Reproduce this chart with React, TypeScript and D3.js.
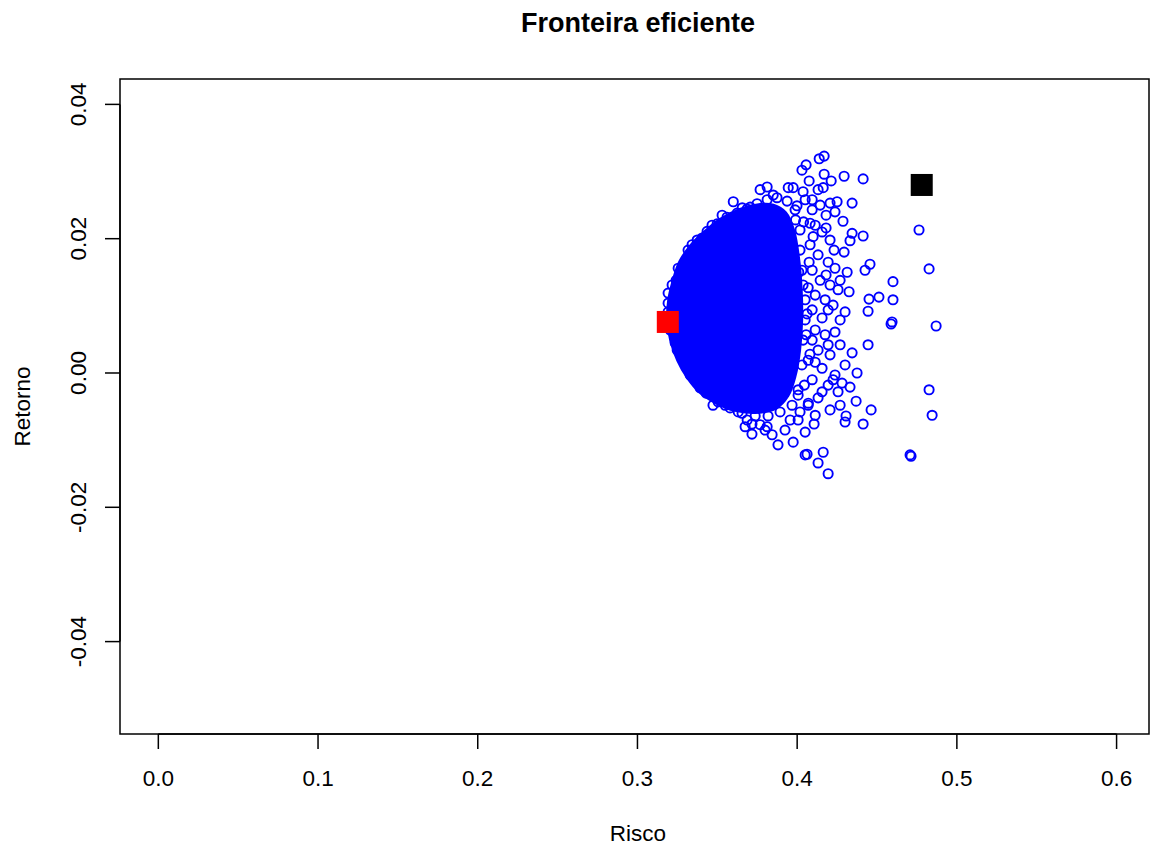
import React from 'react';
import * as d3 from 'd3';

// tick values
const xTicks = [0, 0.1, 0.2, 0.3, 0.4, 0.5, 0.6];
const xTickLabels = ['0.0', '0.1', '0.2', '0.3', '0.4', '0.5', '0.6'];
const yTicks = [-0.04, -0.02, 0, 0.02, 0.04];
const yTickLabels = ['-0.04', '-0.02', '0.00', '0.02', '0.04'];

// dense core of the simulated portfolios (outline, risco / retorno)
const coreRisco = [
  0.3223, 0.3267, 0.3342, 0.3424, 0.3518, 0.3643, 0.3768, 0.3850, 0.3925, 0.3975,
  0.4005, 0.4022, 0.4025, 0.4012, 0.3985, 0.3940, 0.3862, 0.3737, 0.3612, 0.3487,
  0.3392, 0.3317, 0.3255, 0.3211, 0.3192, 0.3199,
];
const coreRetorno = [
  0.0134, 0.0165, 0.0191, 0.021, 0.0228, 0.0243, 0.025, 0.0249, 0.0238, 0.0212,
  0.0172, 0.0124, 0.0079, 0.0034, -0.0003, -0.0033, -0.0052, -0.0058, -0.0055, -0.0043,
  -0.0028, -0.0007, 0.0019, 0.0049, 0.0079, 0.0109,
];

// individual portfolios around the core
const risco = [
  0.4169, 0.4138, 0.4056, 0.403, 0.4169, 0.4294, 0.4413, 0.4213, 0.4075, 0.4163,
  0.3944, 0.3975, 0.4037, 0.3812, 0.3768, 0.385, 0.36, 0.3656, 0.3706, 0.4344,
  0.425, 0.4206, 0.4237, 0.4287, 0.4763, 0.4344, 0.4413, 0.4331, 0.4294, 0.4826,
  0.4456, 0.4425, 0.4313, 0.46, 0.4325, 0.4512, 0.445, 0.46, 0.4444, 0.43,
  0.4594, 0.4588, 0.487, 0.4444, 0.4344, 0.4375, 0.4826, 0.4331, 0.4369, 0.4463,
  0.4845, 0.4306, 0.43, 0.4413, 0.4106, 0.4062, 0.405, 0.4163, 0.4131, 0.4194,
  0.4707, 0.4713, 0.3473, 0.3717, 0.3717, 0.388, 0.3975, 0.3799, 0.4225, 0.3687,
  0.3812, 0.3956, 0.4081, 0.41, 0.3192, 0.3192, 0.3236, 0.3286, 0.3286, 0.3342,
  0.3405, 0.3242, 0.333, 0.3392, 0.3549, 0.3631, 0.3467, 0.353, 0.405, 0.4094,
  0.4144, 0.4181, 0.4113, 0.4156, 0.4206, 0.4081, 0.4131, 0.4194, 0.4237, 0.4094,
  0.4144, 0.4206, 0.4256, 0.4113, 0.4175, 0.4225, 0.4094, 0.4156, 0.405, 0.4113,
  0.4175, 0.4237, 0.4269, 0.4206, 0.4131, 0.4069, 0.4156, 0.4237, 0.43, 0.4094,
  0.4194, 0.4256, 0.4131, 0.4069, 0.4206, 0.4269, 0.4018, 0.4018, 0.403, 0.4037,
  0.4006, 0.3987,
  // edge of the core
  0.3317, 0.3374, 0.3436, 0.3499, 0.3561, 0.3624, 0.3686, 0.3749, 0.3812, 0.3874,
  0.3937, 0.3999, 0.3217, 0.3255, 0.3192, 0.3205, 0.3249, 0.3305, 0.3361, 0.343,
  0.3505, 0.358, 0.3655, 0.3737, 0.3818, 0.3893, 0.3968, 0.3768, 0.3843, 0.3674,
  0.3924, 0.4018, 0.4037, 0.405, 0.4056, 0.403, 0.4006,
  0.4094, 0.4131, 0.4181, 0.4231, 0.4181, 0.4269, 0.4069, 0.4194, 0.4269, 0.4094,
  0.4194, 0.4113, 0.4281, 0.4156, 0.4113, 0.4006, 0.405,
  0.3990, 0.4040, 0.4075, 0.4062, 0.4080, 0.4070, 0.4045, 0.4010,
];
const retorno = [
  0.0323, 0.0319, 0.031, 0.0302, 0.0296, 0.0293, 0.0289, 0.0286, 0.0286, 0.0276,
  0.0276, 0.0276, 0.027, 0.0277, 0.0273, 0.0265, 0.0255, 0.0246, 0.0247, 0.0253,
  0.0255, 0.0253, 0.024, 0.0226, 0.0213, 0.0208, 0.0204, 0.0197, 0.018, 0.0155,
  0.0162, 0.0153, 0.015, 0.0136, 0.0121, 0.0113, 0.011, 0.0109, 0.0092, 0.0091,
  0.0076, 0.0073, 0.007, 0.0042, 0.003, 0.0, -0.0025, -0.0021, -0.0042, -0.0055,
  -0.0063, -0.0064, -0.0073, -0.0076, -0.0076, -0.0121, -0.0122, -0.0118, -0.0134, -0.015,
  -0.0122, -0.0124, -0.0048, -0.0091, -0.0076, -0.0107, -0.0103, -0.0085, -0.001, -0.007,
  -0.008, -0.007, 0.0223, 0.0203, 0.0119, 0.0104, 0.0045, 0.0022, 0.0158, 0.0191,
  0.0201, 0.0138, -0.0003, -0.0022, -0.0048, -0.0058, 0.022, 0.0235, 0.0258, 0.0243,
  0.025, 0.0235, 0.022, 0.021, 0.0198, 0.0191, 0.0176, 0.0165, 0.0156, 0.0153,
  0.0138, 0.0131, 0.0124, 0.0116, 0.0109, 0.0101, 0.0094, 0.0082, 0.0079, 0.0064,
  0.0057, 0.0061, 0.0042, 0.0027, 0.0034, 0.0019, 0.0007, -0.0003, 0.0012, -0.001,
  -0.0018, -0.0028, -0.0037, -0.0048, -0.0055, -0.0048, -0.0058, 0.0213, 0.0153, 0.0049,
  -0.0025, 0.0243,
  // edge of the core
  0.0183, 0.0198, 0.0211, 0.0222, 0.0232, 0.0238, 0.0244, 0.0252, 0.0258, 0.0261,
  0.0256, 0.0249, 0.0131, 0.0156, 0.0091, 0.0064, 0.0034, 0.001, -0.001, -0.003,
  -0.0043, -0.0052, -0.006, -0.0064, -0.0064, -0.0058, -0.0048, -0.0077, -0.0092, -0.008,
  -0.0085, 0.0183, 0.0131, 0.0109, 0.0057, 0.0012, -0.0033,
  0.0258, 0.0273, 0.0216, 0.0183, 0.0146, 0.0138, 0.0127, 0.0094, 0.0079, 0.0049,
  0.0042, 0.0016, -0.0015, -0.0028, -0.0063, -0.007, -0.0088,
  0.0228, 0.0225, 0.0165, 0.0088, 0.0028, -0.0045, -0.0018, 0.0150,
];

// minimum risk (red) and maximum return (black) portfolios
const minRisco = [0.319];
const minRetorno = [0.0076];
const maxRisco = [0.478];
const maxRetorno = [0.028];

const width = 1150;
const height = 846;
const plot = { left: 120, right: 1149, top: 79, bottom: 734 };
const font = '"Liberation Sans", Arial, Helvetica, sans-serif';

const App = () => {
  const x = d3.scaleLinear().domain([-0.024, 0.6203]).range([plot.left, plot.right]);
  const y = d3.scaleLinear().domain([-0.05376, 0.04378]).range([plot.bottom, plot.top]);

  const core = coreRisco.map((r, i) => [r, coreRetorno[i]] as [number, number]);
  const corePath = d3.line<[number, number]>()
    .x(d => x(d[0]))
    .y(d => y(d[1]))
    .curve(d3.curveCatmullRomClosed)(core) || '';

  const blue = '#0000ff';
  const sq = 22;

  return (
    <svg width={width} height={height} style={{ position: 'absolute', left: 0, top: 0, background: '#fff' }}
      fontFamily={font}>
      <text x={638} y={32} textAnchor="middle" fontSize={27} fontWeight="bold">Fronteira eficiente</text>

      {/* points */}
      <path d={corePath} fill={blue} stroke={blue} strokeWidth={4} />
      {risco.map((r, i) => (
        <circle key={i} cx={x(r)} cy={y(retorno[i])} r={4.6} fill="none" stroke={blue} strokeWidth={1.9} />
      ))}
      {minRisco.map((r, i) => (
        <rect key={'min' + i} x={x(r) - sq / 2} y={y(minRetorno[i]) - sq / 2} width={sq} height={sq} fill="#ff0000" />
      ))}
      {maxRisco.map((r, i) => (
        <rect key={'max' + i} x={x(r) - sq / 2} y={y(maxRetorno[i]) - sq / 2} width={sq} height={sq} fill="#000" />
      ))}

      {/* box */}
      <rect x={plot.left} y={plot.top} width={plot.right - plot.left} height={plot.bottom - plot.top}
        fill="none" stroke="#000" strokeWidth={1.5} />

      {/* x axis */}
      <line x1={x(xTicks[0])} x2={x(xTicks[xTicks.length - 1])} y1={plot.bottom} y2={plot.bottom} stroke="#000" strokeWidth={1.5} />
      {xTicks.map((t, i) => (
        <g key={'xt' + i}>
          <line x1={x(t)} x2={x(t)} y1={plot.bottom} y2={plot.bottom + 15} stroke="#000" strokeWidth={1.5} />
          <text x={x(t)} y={786} textAnchor="middle" fontSize={22.5}>{xTickLabels[i]}</text>
        </g>
      ))}

      {/* y axis */}
      <line x1={plot.left} x2={plot.left} y1={y(yTicks[0])} y2={y(yTicks[yTicks.length - 1])} stroke="#000" strokeWidth={1.5} />
      {yTicks.map((t, i) => (
        <g key={'yt' + i}>
          <line x1={plot.left - 15} x2={plot.left} y1={y(t)} y2={y(t)} stroke="#000" strokeWidth={1.5} />
          <text transform={`translate(86,${y(t)}) rotate(-90)`} textAnchor="middle" fontSize={22.5}>{yTickLabels[i]}</text>
        </g>
      ))}

      <text x={638} y={841} textAnchor="middle" fontSize={22.5}>Risco</text>
      <text transform={`translate(30,${(plot.top + plot.bottom) / 2}) rotate(-90)`} textAnchor="middle" fontSize={22.5}>Retorno</text>
    </svg>
  );
};

export default App;
